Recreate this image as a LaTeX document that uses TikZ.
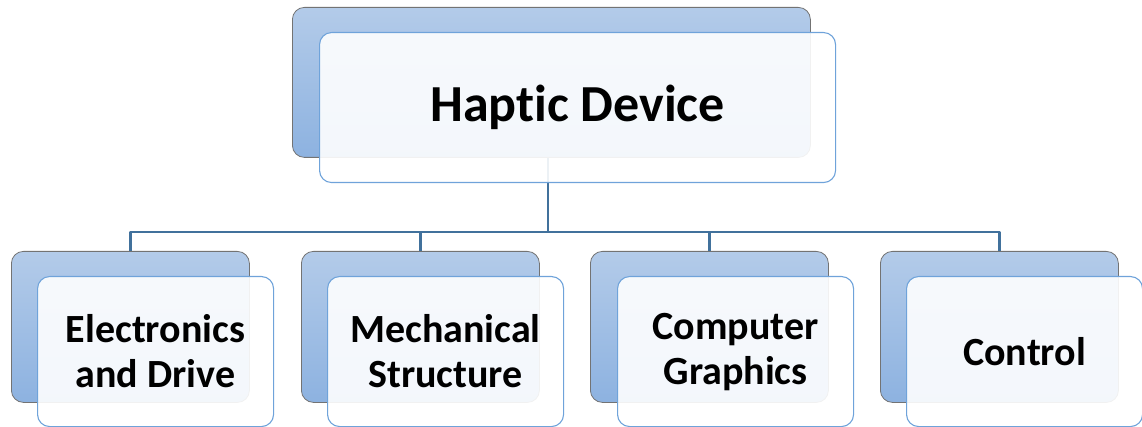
\documentclass[tikz,border=0pt]{standalone}
\usepackage{fontspec}
\setmainfont{Carlito}[Ligatures=NoCommon]
\begin{document}
\definecolor{boxtop}{HTML}{B3CBE9}
\definecolor{boxbot}{HTML}{8DB2E0}
\definecolor{edgeblue}{HTML}{6FA3DA}
\definecolor{linkblue}{HTML}{41719C}
\begin{tikzpicture}[x=1pt,y=-1pt,line join=round,font=\bfseries]
    \tikzset{backbox/.style={draw=black!55,line width=0.8pt,rounded corners=12pt,top color=boxtop,bottom color=boxbot,anchor=north west,inner sep=0pt},
        frontbox/.style={draw=edgeblue,line width=1.1pt,rounded corners=12pt,fill=white,fill opacity=0.9,text opacity=1,anchor=north west,align=center,inner sep=0pt},
        link/.style={draw=linkblue,line width=2.2pt}}
    \useasboundingbox (0,0) rectangle (1142,427);
    % top level
    \node[backbox,minimum width=518pt,minimum height=150pt] (hapticback) at (292,7) {};
    \coordinate (bus) at (548,232);
    % second level, back boxes
    \foreach \x/\nm in {11/elec,301/mech,590/comp,880/ctrl}
        \node[backbox,minimum width=238pt,minimum height=151pt] (\nm back) at (\x,251) {};
    \draw[link] (hapticback.south -| bus) -- (bus);
    \draw[link] (elecback.north) -- (elecback.north |- bus) -- (ctrlback.north |- bus) -- (ctrlback.north);
    \draw[link] (mechback.north) -- (mechback.north |- bus);
    \draw[link] (compback.north) -- (compback.north |- bus);
    % front boxes with text
    \node[frontbox,minimum width=516pt,minimum height=150pt,font=\fontsize{52}{58}\bfseries] (haptic) at (319,32) {Haptic Device};
    \foreach \x/\nm/\txt in {37/elec/{Electronics\\and Drive},327/mech/{Mechanical\\Structure},617/comp/{Computer\\Graphics},906/ctrl/Control}
        \node[frontbox,minimum width=236pt,minimum height=150pt,font=\fontsize{40}{45}\bfseries] (\nm) at (\x,276) {\txt};
\end{tikzpicture}
\end{document}
